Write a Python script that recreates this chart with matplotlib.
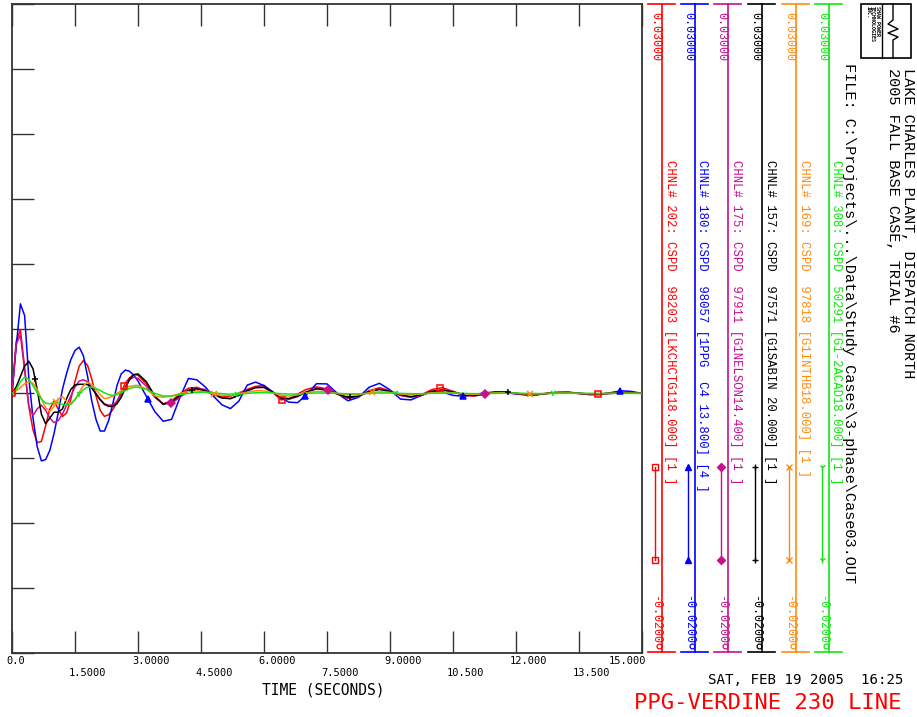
import numpy as np
import matplotlib
matplotlib.use('Agg')
import matplotlib.pyplot as plt
from matplotlib.patches import Rectangle

# sample times (s): 0.1 s steps to 3 s, 0.2 s to 7 s, 0.25 s to 15 s
time_s = np.round(np.concatenate([np.arange(0, 3.01, 0.1),
                                  np.arange(3.2, 7.01, 0.2),
                                  np.arange(7.25, 15.01, 0.25)]), 2)

# speed deviation per channel, in 1e-3 pu
chnl_202 = [0, 4.0, 4.9, 2.0, -1.0, -2.8, -3.8, -3.7, -2.5, -1.2, -0.6, -1.2, -1.78, -1.5, -0.46, 0.93,
            2.1, 2.54, 2.15, 1.1, -0.2, -1.3, -1.77, -1.65, -1.25, -0.63, 0.1, 0.8, 1.21, 1.45, 1.4,
            0.72, -0.29, -0.8, -0.57, -0.04, 0.4, 0.47, 0.23, -0.1, -0.28, -0.21, 0.02, 0.31, 0.54, 0.62,
            0.12, -0.5, -0.4, -0.05, 0.3,
            0.5, 0.35, -0.05, -0.38, -0.25, 0.2, 0.44, 0.2, -0.15, -0.3, -0.1, 0.3, 0.45, 0.15, -0.15, -0.2,
            -0.05, 0.12, 0.12, 0.0, -0.1, -0.1, 0.0, 0.08, 0.08, 0.0, -0.05, -0.05, 0.05, 0.1, 0.05, 0.0]
chnl_180 = [0, 3.6, 6.9, 6.0, 1.2, -1.9, -4.1, -5.2, -5.1, -4.4, -3.1, -1.5, 0.3, 1.55, 2.6, 3.3,
            3.56, 2.9, 1.3, -0.6, -2.0, -2.9, -2.9, -2.1, -0.8, 0.6, 1.5, 1.8, 1.7, 1.4, 0.95,
            -0.23, -1.4, -2.15, -2.0, -0.3, 1.15, 1.05, 0.5, -0.23, -0.88, -1.17, -0.6, 0.64, 0.87, 0.6,
            0.14, -0.35, -0.68, -0.71, -0.14,
            0.75, 0.73, -0.01, -0.57, -0.3, 0.47, 0.78, 0.27, -0.44, -0.5, -0.15, 0.15, 0.1, -0.15, -0.22, -0.1,
            0.05, 0.1, 0.05, -0.05, -0.12, -0.1, 0.0, 0.08, 0.1, 0.0, -0.1, -0.1, 0.05, 0.2, 0.15, 0.0]
chnl_175 = [0, 3.8, 4.5, 1.8, -1.0, -1.7, -1.2, -0.9, -1.3, -1.9, -2.25, -2.1, -1.6, -0.9, -0.2, 0.5,
            0.95, 1.05, 0.9, 0.5, 0.0, -0.45, -0.8, -0.9, -0.9, -0.6, -0.1, 0.5, 1.05, 1.25, 1.15,
            0.55, -0.3, -0.8, -0.75, -0.3, 0.2, 0.4, 0.3, -0.05, -0.35, -0.4, -0.15, 0.2, 0.45, 0.45,
            0.1, -0.35, -0.45, -0.25, 0.1,
            0.4, 0.3, -0.05, -0.35, -0.25, 0.15, 0.35, 0.2, -0.15, -0.3, -0.15, 0.15, 0.3, 0.15, -0.1, -0.2,
            -0.05, 0.1, 0.1, 0.0, -0.08, -0.08, 0.0, 0.05, 0.05, 0.0, -0.05, -0.05, 0.0, 0.05, 0.05, 0.0]
chnl_157 = [0, 0.5, 1.3, 2.1, 2.48, 1.9, 0.3, -1.6, -2.33, -1.9, -1.45, -1.45, -1.2, -0.4, 0.3, 0.65,
            0.7, 0.7, 0.68, 0.4, -0.05, -0.5, -0.85, -1.0, -1.0, -0.8, -0.3, 0.4, 1.1, 1.45, 1.5,
            0.9, -0.2, -0.85, -0.65, -0.15, 0.25, 0.35, 0.2, -0.1, -0.35, -0.4, -0.15, 0.2, 0.45, 0.48,
            0.1, -0.35, -0.4, -0.2, 0.1,
            0.35, 0.25, -0.05, -0.3, -0.2, 0.15, 0.3, 0.15, -0.1, -0.25, -0.1, 0.15, 0.25, 0.1, -0.1, -0.15,
            -0.05, 0.08, 0.1, 0.0, -0.08, -0.08, 0.0, 0.05, 0.05, 0.0, -0.04, -0.04, 0.0, 0.04, 0.04, 0.0]
chnl_169 = [0, 0.2, 0.45, 0.75, 0.9, 0.8, 0.3, -0.4, -1.1, -1.4, -1.0, -0.4, -0.25, -0.6, -0.85, -0.5,
            0.1, 0.6, 0.87, 0.7, 0.3, -0.1, -0.4, -0.35, -0.2, 0.0, 0.2, 0.4, 0.55, 0.6, 0.62,
            0.35, -0.2, -0.3, -0.2, 0.0, 0.15, 0.2, 0.1, -0.05, -0.15, -0.15, -0.05, 0.1, 0.2, 0.2,
            0.05, -0.15, -0.2, -0.1, 0.05,
            0.15, 0.12, 0.0, -0.12, -0.1, 0.05, 0.12, 0.08, -0.05, -0.1, -0.05, 0.05, 0.1, 0.05, -0.05, -0.08,
            -0.02, 0.04, 0.05, 0.0, -0.04, -0.04, 0.0, 0.03, 0.03, 0.0, -0.02, -0.02, 0.0, 0.02, 0.02, 0.0]
chnl_308 = [0, 0.3, 0.9, 1.25, 1.1, 0.6, 0.05, -0.45, -0.75, -0.8, -0.7, -0.7, -0.85, -0.92, -0.8, -0.45,
            -0.05, 0.3, 0.47, 0.48, 0.38, 0.22, 0.05, -0.1, -0.15, -0.1, 0.05, 0.22, 0.38, 0.47, 0.49,
            0.3, 0.0, -0.2, -0.2, -0.1, 0.0, 0.08, 0.1, 0.05, -0.02, -0.06, -0.05, 0.0, 0.05, 0.06,
            0.03, -0.02, -0.05, -0.04, 0.0,
            0.03, 0.03, 0.0, -0.03, -0.03, 0.0, 0.03, 0.03, 0.0, -0.02, -0.02, 0.0, 0.02, 0.02, 0.0, -0.02,
            -0.02, 0.0, 0.02, 0.02, 0.0, -0.01, -0.01, 0.0, 0.01, 0.01, 0.0, 0.0, 0.0, 0.0, 0.0, 0.0]

channel_labels = ['CHNL# 202: CSPD  98203 [LKCHCTG118.000] [1 ]',
                  'CHNL# 180: CSPD  98057 [1PPG  C4 13.800] [4 ]',
                  'CHNL# 175: CSPD  97911 [G1NELSON14.400] [1 ]',
                  'CHNL# 157: CSPD  97571 [G1SABIN 20.000] [1 ]',
                  'CHNL# 169: CSPD  97818 [G1INTHB18.000] [1 ]',
                  'CHNL# 308: CSPD  50291 [G1-2ACAD18.000] [1 ]']
colors = ['#ff0000', '#0000ff', '#c8108c', '#000000', '#ff8a10', '#12e612']
markers = ['s', '^', 'D', '+', 'x', '1']
# times where the symbols sit on each trace
marker_times = [[0.0, 2.67, 6.44, 10.19, 13.95],
                [3.24, 6.98, 10.74, 14.48],
                [3.79, 7.52, 11.26],
                [0.55, 4.29, 8.05, 11.81],
                [1.05, 4.81, 8.57, 12.33],
                [1.6, 5.36, 9.12, 12.88]]

x_ticks = [0, 1.5, 3, 4.5, 6, 7.5, 9, 10.5, 12, 13.5, 15]
x_tick_labels = ['0.0', '1.5000', '3.0000', '4.5000', '6.0000', '7.5000',
                 '9.0000', '10.500', '12.000', '13.500', '15.000']
y_min, y_max = -0.02, 0.03

W, H = 917, 717
mono = 'DejaVu Sans Mono'
rmono = 'Liberation Mono'   # narrower cap height for the rotated columns
fig = plt.figure(figsize=(W / 100, H / 100), dpi=100)
ax = fig.add_axes([12 / W, 1 - 653 / H, 630 / W, 649 / H])

series = [chnl_202, chnl_180, chnl_175, chnl_157, chnl_169, chnl_308]
for vals, c, m, mt in zip(series, colors, markers, marker_times):
    v = np.array(vals) * 1e-3
    ax.plot(time_s, v, color=c, lw=1.1, zorder=3)
    ax.plot(mt, np.interp(mt, time_s, v), ls='none', marker=m, ms=4.5, mew=1.1,
            color=c, mfc='none' if m == 's' else c, zorder=4)

ax.set_xlim(0, 15)
ax.set_ylim(y_min, y_max)
ax.set_xticks(x_ticks)
ax.set_yticks(np.arange(y_min, y_max + 1e-9, 0.005))
ax.tick_params(axis='both', direction='in', length=16, width=1.0, color='#333333',
               top=True, right=False, labelbottom=False, labelleft=False)
for s in ax.spines.values():
    s.set_linewidth(1.3)
    s.set_color('#333333')

for i, (t, lab) in enumerate(zip(x_ticks, x_tick_labels)):
    last = i == len(x_ticks) - 1
    ax.annotate(lab, xy=(t, 0), xycoords=('data', 'axes fraction'),
                xytext=(4 if last else -6, -3 - 12 * (i % 2)), textcoords='offset pixels',
                ha='right' if last else 'left', va='top', family=mono, fontsize=7.5)

# overlay in pixel coordinates for the channel scales and titles
lax = fig.add_axes([0, 0, 1, 1], facecolor='none')
lax.set_xlim(0, W)
lax.set_ylim(H, 0)
lax.axis('off')

col_x = [662, 695, 728, 762, 796, 829]
for x, c, m, lab in zip(col_x, colors, markers, channel_labels):
    lax.plot([x, x], [4, 652], color=c, lw=1.2)
    lax.plot([x - 14, x + 13], [4, 4], color=c, lw=1.2)
    lax.plot([x - 14, x + 13], [652, 652], color=c, lw=1.2)
    lax.plot([x - 7, x - 7], [467, 560], color=c, lw=1.0, marker=m, ms=4.5, mew=1.0,
             mfc='none' if m == 's' else c)
    lax.plot([x - 3], [646], marker='o', ms=3.5, mfc='none', color=c, mew=0.9)
    lax.text(x - 7, 12, '0.03000', rotation=-90, ha='center', va='top', color=c,
             family=rmono, fontsize=8.4)
    lax.text(x - 7, 644, '-0.0200', rotation=-90, ha='center', va='bottom', color=c,
             family=rmono, fontsize=8.4)
    lax.text(x + 7.5, 160, lab, rotation=-90, ha='center', va='top', color=c,
             family=rmono, fontsize=8.8)

lax.text(908, 68, 'LAKE CHARLES PLANT, DISPATCH NORTH', rotation=-90, ha='center', va='top',
         family=rmono, fontsize=11)
lax.text(893, 68, '2005 FALL BASE CASE, TRIAL #6', rotation=-90, ha='center', va='top',
         family=rmono, fontsize=11)
lax.text(849, 63, 'FILE: C:\\Projects\\...\\Data\\Study Cases\\3-phase\\Case03.OUT', rotation=-90,
         ha='center', va='top', family=rmono, fontsize=11)

# logo box
lax.add_patch(Rectangle((861, 4), 50, 54, fill=False, lw=1.2, ec='black'))
lax.plot([882, 882], [4, 58], color='black', lw=1.0)
lax.plot([893, 893, 888, 898, 888, 898, 893, 893],
         [4, 20, 24, 29, 33, 37, 40, 58], color='black', lw=1.0)
for k, word in enumerate(['SHAW POWER', 'TECHNOLOGIES', 'INC.']):
    lax.text(877 - 4.5 * k, 6, word, rotation=-90, ha='center', va='top',
             family=mono, fontsize=3.6, fontweight='bold')

fig.text(323 / W, 1 - 690 / H, 'TIME (SECONDS)', ha='center', va='center',
         family=mono, fontsize=10.5)
fig.text(903 / W, 1 - 680 / H, 'SAT, FEB 19 2005  16:25', ha='right', va='center',
         family=mono, fontsize=10.2)
fig.text(901 / W, 1 - 703 / H, 'PPG-VERDINE 230 LINE', ha='right', va='center',
         family=mono, fontsize=16, color='#ff0000')

fig.savefig('out.png', dpi=100)
